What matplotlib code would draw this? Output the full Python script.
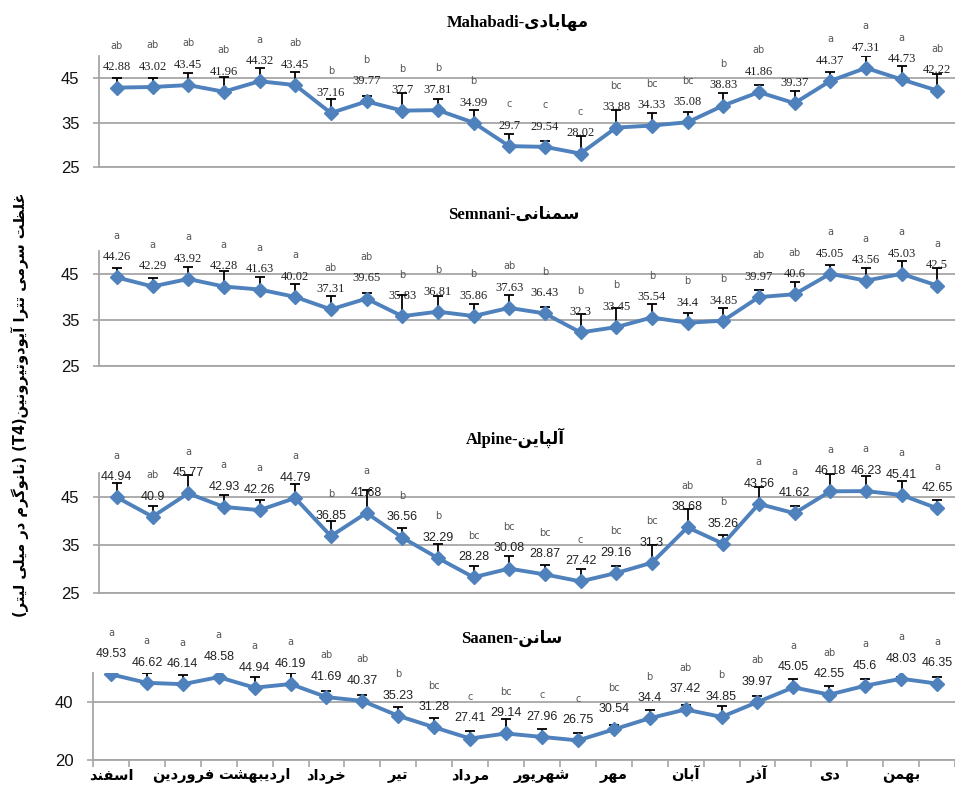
import matplotlib
matplotlib.use("Agg")
import matplotlib.pyplot as plt
import numpy as np

# ---------------- data ----------------
months = ["اسفند", "فروردین", "اردیبهشت", "خرداد", "تیر", "مرداد",
          "شهریور", "مهر", "آبان", "آذر", "دی", "بهمن"]

mahabadi_vals = [42.88, 43.02, 43.45, 41.96, 44.32, 43.45, 37.16, 39.77, 37.7, 37.81, 34.99, 29.7,
                 29.54, 28.02, 33.88, 34.33, 35.08, 38.83, 41.86, 39.37, 44.37, 47.31, 44.73, 42.22]
mahabadi_err = [2.1, 2.0, 2.7, 3.3, 3.0, 3.0, 3.2, 1.3, 3.9, 2.5, 2.9, 2.7,
                1.3, 4.0, 4.0, 2.8, 2.2, 2.8, 1.6, 2.8, 2.0, 2.7, 3.0, 3.8]
mahabadi_let = ["ab", "ab", "ab", "ab", "a", "ab", "b", "b", "b", "b", "b", "c",
                "c", "c", "bc", "bc", "bc", "b", "ab", "", "a", "a", "a", "ab"]

semnani_vals = [44.26, 42.29, 43.92, 42.28, 41.63, 40.02, 37.31, 39.65, 35.83, 36.81, 35.86, 37.63,
                36.43, 32.3, 33.45, 35.54, 34.4, 34.85, 39.97, 40.6, 45.05, 43.56, 45.03, 42.5]
semnani_err = [2.1, 1.8, 2.6, 3.4, 2.8, 2.8, 3.0, 1.3, 4.6, 3.4, 2.7, 2.7,
               1.3, 3.9, 4.1, 2.9, 2.2, 2.7, 1.5, 2.7, 2.0, 2.7, 2.9, 3.7]
semnani_let = ["a", "a", "a", "a", "a", "a", "ab", "ab", "b", "b", "b", "ab",
               "b", "b", "b", "b", "b", "b", "ab", "ab", "a", "a", "a", "a"]

alpine_vals = [44.94, 40.9, 45.77, 42.93, 42.26, 44.79, 36.85, 41.68, 36.56, 32.29, 28.28, 30.08,
               28.87, 27.42, 29.16, 31.3, 38.68, 35.26, 43.56, 41.62, 46.18, 46.23, 45.41, 42.65]
alpine_err = [2.9, 2.3, 3.9, 2.5, 2.2, 3.0, 3.1, 4.7, 2.0, 2.9, 2.3, 2.6,
              2.0, 2.6, 1.5, 3.6, 3.8, 1.8, 3.6, 1.6, 3.7, 3.1, 3.0, 1.8]
alpine_let = ["a", "ab", "a", "a", "a", "a", "b", "a", "b", "b", "bc", "bc",
              "bc", "c", "bc", "bc", "ab", "b", "a", "a", "a", "a", "a", "a"]

saanen_vals = [49.53, 46.62, 46.14, 48.58, 44.94, 46.19, 41.69, 40.37, 35.23, 31.28, 27.41, 29.14,
               27.96, 26.75, 30.54, 34.4, 37.42, 34.85, 39.97, 45.05, 42.55, 45.6, 48.03, 46.35]
saanen_err = [0.4, 3.3, 3.1, 0.5, 3.6, 3.8, 2.1, 2.0, 3.0, 3.1, 2.7, 5.0,
              2.8, 2.6, 1.7, 3.0, 1.7, 3.7, 2.2, 2.8, 3.0, 2.2, 0.6, 2.1]
saanen_let = ["a", "a", "a", "a", "a", "a", "ab", "ab", "b", "bc", "c", "bc",
              "c", "c", "bc", "b", "ab", "b", "ab", "a", "ab", "a", "a", "a"]

titles_latin = ["Mahabadi-", "Semnani-", "Alpine-", "Saanen-"]
titles_fa = ["مهابادی", "سمنانی", "آلپاین", "سانن"]
ylabel_part1 = "غلظت سرمی تترا آیودوتیرونین"
ylabel_part2 = "نانوگرم در میلی لیتر"

# ---------------- minimal Persian shaping (presentation forms + RTL) ----------------
FORMS = {
    'ا': ('\uFE8D', '\uFE8E', None, None),
    'آ': ('\uFE81', '\uFE82', None, None),
    'ب': ('\uFE8F', '\uFE90', '\uFE91', '\uFE92'),
    'پ': ('\uFB56', '\uFB57', '\uFB58', '\uFB59'),
    'ت': ('\uFE95', '\uFE96', '\uFE97', '\uFE98'),
    'خ': ('\uFEA5', '\uFEA6', '\uFEA7', '\uFEA8'),
    'د': ('\uFEA9', '\uFEAA', None, None),
    'ذ': ('\uFEAB', '\uFEAC', None, None),
    'ر': ('\uFEAD', '\uFEAE', None, None),
    'س': ('\uFEB1', '\uFEB2', '\uFEB3', '\uFEB4'),
    'ش': ('\uFEB5', '\uFEB6', '\uFEB7', '\uFEB8'),
    'ظ': ('\uFEC5', '\uFEC6', '\uFEC7', '\uFEC8'),
    'غ': ('\uFECD', '\uFECE', '\uFECF', '\uFED0'),
    'ف': ('\uFED1', '\uFED2', '\uFED3', '\uFED4'),
    'ل': ('\uFEDD', '\uFEDE', '\uFEDF', '\uFEE0'),
    'م': ('\uFEE1', '\uFEE2', '\uFEE3', '\uFEE4'),
    'ن': ('\uFEE5', '\uFEE6', '\uFEE7', '\uFEE8'),
    'ه': ('\uFEE9', '\uFEEA', '\uFEEB', '\uFEEC'),
    'و': ('\uFEED', '\uFEEE', None, None),
    'ی': ('\uFBFC', '\uFBFD', '\uFBFE', '\uFBFF'),
    'گ': ('\uFB92', '\uFB93', '\uFB94', '\uFB95'),
}


def rtl(s):
    out = []
    n = len(s)
    for i, c in enumerate(s):
        if c not in FORMS:
            out.append(c)
            continue
        f = FORMS[c]
        prev = s[i - 1] if i > 0 else None
        nxt = s[i + 1] if i < n - 1 else None
        jp = prev in FORMS and FORMS[prev][2] is not None
        jn = nxt in FORMS and f[2] is not None
        if jp and jn:
            out.append(f[3])
        elif jp:
            out.append(f[1])
        elif jn:
            out.append(f[2])
        else:
            out.append(f[0])
    return ''.join(out)[::-1]


# ---------------- figure ----------------
W, H = 955, 787
fig = plt.figure(figsize=(W / 100, H / 100), dpi=100)
fig.patch.set_facecolor("white")

FA = ['DejaVu Sans']
BLUE = '#4F81BD'
GRID = '#A6A6A6'

# axes boxes in pixels: (left, top, bottom)
boxes = [(99, 56, 167), (99, 251, 366), (99, 473, 593), (93, 673, 760)]
ylims = [(25, 50), (25, 50), (25, 50), (20, 50)]
yticks = [[25, 35, 45], [25, 35, 45], [25, 35, 45], [20, 40]]
title_pos = [(518, 22), (514, 215), (515, 438), (512, 638)]
series = [(mahabadi_vals, mahabadi_err, mahabadi_let),
          (semnani_vals, semnani_err, semnani_let),
          (alpine_vals, alpine_err, alpine_let),
          (saanen_vals, saanen_err, saanen_let)]
label_fonts = ['Liberation Serif', 'Liberation Serif', 'Liberation Sans', 'Liberation Sans']

x = np.arange(24)
for k, ((vals, errs, lets), (l, t, b)) in enumerate(zip(series, boxes)):
    ax = fig.add_axes([l / W, 1 - b / H, (W - l) / W, (b - t) / H])
    ax.set_xlim(-0.5, 23.5)
    ax.set_ylim(*ylims[k])
    ax.set_yticks(yticks[k])
    ax.yaxis.grid(True, color=GRID, lw=1.3)
    ax.set_axisbelow(True)
    for s in ['top', 'right']:
        ax.spines[s].set_visible(False)
    for s in ['left', 'bottom']:
        ax.spines[s].set_color(GRID)
        ax.spines[s].set_linewidth(1.3)
    ax.tick_params(axis='y', length=4, color=GRID, width=1.2, labelsize=12,
                   labelcolor='#111111', pad=10)
    for lab in ax.get_yticklabels():
        lab.set_fontfamily('Liberation Sans')

    ax.errorbar(x, vals, yerr=[np.zeros(24), errs], fmt='none', ecolor='black',
                elinewidth=1.3, capsize=3.6, capthick=1.3, zorder=2)
    ax.plot(x, vals, color=BLUE, lw=2.8, marker='D', ms=7.5, zorder=3)

    for i, (v, lt) in enumerate(zip(vals, lets)):
        ax.annotate(str(v), (i, v), xytext=(0, 14.5), textcoords='offset points',
                    ha='center', va='center', fontsize=9, color='#222222',
                    family=label_fonts[k], zorder=4)
        if lt:
            ax.annotate(lt, (i, v), xytext=(0, 30), textcoords='offset points',
                        ha='center', va='center', fontsize=7, color='#555555',
                        family='DejaVu Sans', zorder=4)

    if k < 3:
        ax.set_xticks([])
    else:
        ax.set_xticks(np.arange(-0.5, 24, 1))
        ax.tick_params(axis='x', which='major', length=5, color=GRID, width=1.2,
                       labelbottom=False)
        ax.set_xticks(np.arange(0, 24, 2), minor=True)
        ax.set_xticklabels([rtl(m) for m in months], minor=True)
        ax.tick_params(axis='x', which='minor', length=0, pad=14, labelsize=10.5)
        for lab in ax.get_xticklabels(minor=True):
            lab.set_fontfamily(FA)
            lab.set_fontweight('bold')
            lab.set_verticalalignment('baseline')

    tx, ty = title_pos[k]
    fig.text(tx / W, 1 - ty / H, titles_latin[k] + rtl(titles_fa[k]),
             ha='center', va='center', fontsize=12, fontweight='bold',
             family=['Liberation Serif', 'DejaVu Sans'])

ylabel = "(" + rtl(ylabel_part2) + ") (T4)" + rtl(ylabel_part1)
fig.text(20 / W, 1 - 405 / H, ylabel, rotation=90, ha='center', va='center',
         fontsize=10.5, fontweight='bold', family=FA)

fig.savefig("out.png", dpi=100, facecolor="white")
